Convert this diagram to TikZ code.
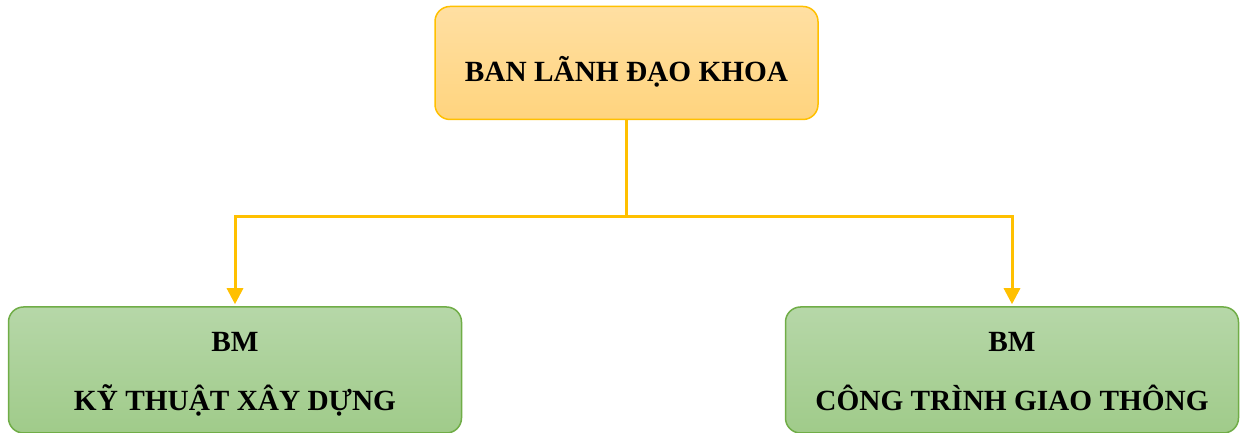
\documentclass[tikz,border=0pt]{standalone}
\usepackage{fontspec}
\setmainfont{Liberation Serif}
\usetikzlibrary{arrows.meta}
\definecolor{orgborder}{HTML}{FFC000}
\definecolor{orgtop}{HTML}{FFDFA2}
\definecolor{orgbot}{HTML}{FFD47E}
\definecolor{grnborder}{HTML}{70AD47}
\definecolor{grntop}{HTML}{B6D7A8}
\definecolor{grnbot}{HTML}{A0CB8A}
\tikzset{
  orgbox/.style={draw=orgborder, line width=1.5pt, rounded corners=15pt, top color=orgtop, bottom color=orgbot, minimum width=383pt, minimum height=113pt, inner sep=0pt},
  grnbox/.style={draw=grnborder, line width=1.5pt, rounded corners=15pt, top color=grntop, bottom color=grnbot, minimum width=453pt, minimum height=126pt, inner sep=0pt},
  lbl/.style={font=\fontsize{29.3}{59}\selectfont\bfseries, align=center, inner sep=0pt},
  conn/.style={draw=orgborder, line width=3pt, -{Triangle[width=16pt,length=16pt]}, shorten >=2pt}
}
\begin{document}
\begin{tikzpicture}[x=1pt,y=1pt]
\useasboundingbox (0,0) rectangle (1242,433);
\node[orgbox] (top) at (626.5,370) {};
\node[lbl, anchor=base] (toptxt) at (626.5,351) {BAN LÃNH ĐẠO KHOA};
\node[grnbox] (left) at (235,63) {};
\node[lbl, anchor=base] (lefttxt) at (235,22) {BM\\KỸ THUẬT XÂY DỰNG};
\node[grnbox] (right) at (1012,63) {};
\node[lbl, anchor=base] (righttxt) at (1012,22) {BM\\CÔNG TRÌNH GIAO THÔNG};
\coordinate (j) at (626.5,216);
\draw[conn] (top.south) -- (j) -| (left.north);
\draw[conn] (top.south) -- (j) -| (right.north);
\end{tikzpicture}
\end{document}
